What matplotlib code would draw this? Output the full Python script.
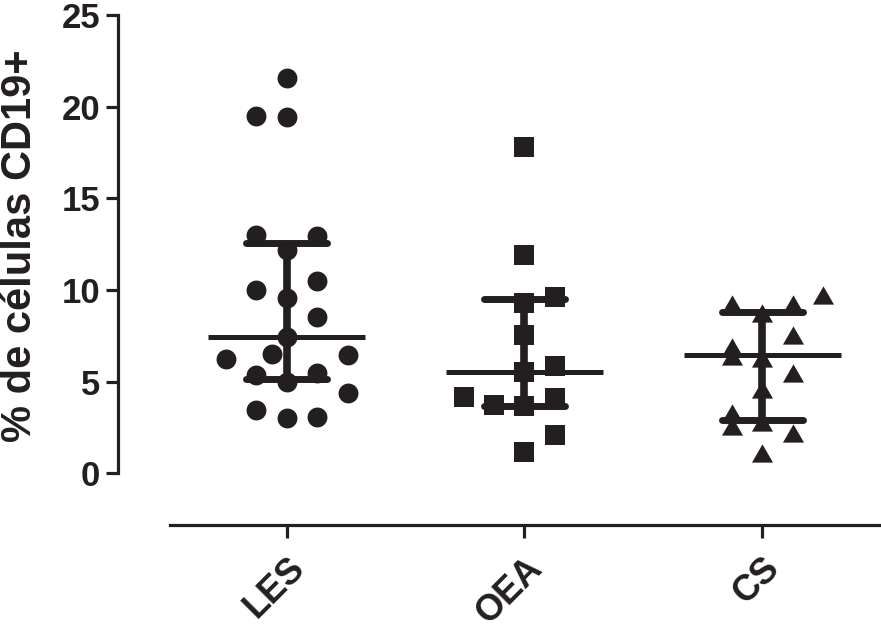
import matplotlib.pyplot as plt
from matplotlib.transforms import ScaledTranslation

plt.rcParams['font.family'] = ['Liberation Sans', 'DejaVu Sans']
plt.rcParams['font.weight'] = 'bold'

groups = ['LES', 'OEA', 'CS']

les = [21.6, 19.5, 19.45, 13.0, 12.95, 12.2, 10.0, 10.5, 9.55, 8.55, 7.45,
       6.25, 6.5, 6.45, 5.35, 5.45, 4.95, 4.35, 3.45, 3.0, 3.05]
les_slots = [0, -1, 0, -1, 1, 0, -1, 1, 0, 1, 0, -2, -0.5, 2, -1, 1, 0, 2, -1, 0, 1]

oea = [17.8, 11.9, 9.6, 9.3, 7.55, 5.85, 5.5, 4.15, 3.7, 3.65, 4.1, 2.1, 1.15]
oea_slots = [0, 0, 1, 0, 0, 1, 0, -2, -1, 0, 1, 1, 0]

cs = [9.7, 9.25, 9.25, 8.75, 7.55, 6.9, 6.4, 6.3, 5.45, 4.6, 3.3, 2.55, 2.8, 2.2, 1.1]
cs_slots = [2, -1, 1, 0, 1, -1, -1, 0, 1, 0, -1, -1, 0, 1, 0]

medians = [7.45, 5.5, 6.45]
q1 = [5.15, 3.65, 2.9]
q3 = [12.55, 9.5, 8.8]

ink = '#231f20'
tri = [(-1, -0.866), (1, -0.866), (0, 0.866), (-1, -0.866)]

fig = plt.figure(figsize=(8.81, 6.35), dpi=100)
ax = fig.add_axes([0.134, 0.173, 0.866, 0.803])

slot_w = 0.128
series = [(les, les_slots, 'o', 205), (oea, oea_slots, 's', 220), (cs, cs_slots, tri, 230)]
for i, (vals, slots, mk, sz) in enumerate(series):
    xs = [i + s * slot_w for s in slots]
    ax.scatter(xs, vals, marker=mk, s=sz, color=ink, linewidths=0, zorder=2)

for i in range(3):
    ax.plot([i - 0.33, i + 0.33], [medians[i], medians[i]], color=ink, lw=3.6,
            solid_capstyle='butt', zorder=3)
    ax.plot([i, i], [q1[i], q3[i]], color=ink, lw=5.5, solid_capstyle='butt', zorder=3)
    for q in (q1[i], q3[i]):
        ax.plot([i - 0.17, i + 0.17], [q, q], color=ink, lw=5.0,
                solid_capstyle='round', zorder=3)

ax.set_xlim(-0.71, 2.5)
ax.set_ylim(-2.84, 25)
ax.set_yticks([0, 5, 10, 15, 20, 25])
ax.set_xticks(range(3))
ax.set_xticklabels(groups, rotation=45, ha='right', rotation_mode='anchor', fontsize=26)
shift = ScaledTranslation(-7 / 72, 0, fig.dpi_scale_trans)
for lab in ax.get_xticklabels():
    lab.set_transform(lab.get_transform() + shift)

for s in ('top', 'right'):
    ax.spines[s].set_visible(False)
ax.spines['left'].set_bounds(0, 25)
ax.spines['bottom'].set_bounds(-0.49, 2.5)
for s in ('left', 'bottom'):
    ax.spines[s].set_linewidth(2.3)
    ax.spines[s].set_color(ink)

ax.tick_params(axis='both', length=9, width=2.3, color=ink, labelcolor=ink)
ax.tick_params(axis='y', labelsize=25, pad=4)
ax.tick_params(axis='x', pad=9)
ax.set_ylabel('% de células CD19+', fontsize=30, fontweight='bold', color=ink)
ax.yaxis.set_label_coords(-0.102, 0.549)

fig.savefig('out.png', dpi=100)
